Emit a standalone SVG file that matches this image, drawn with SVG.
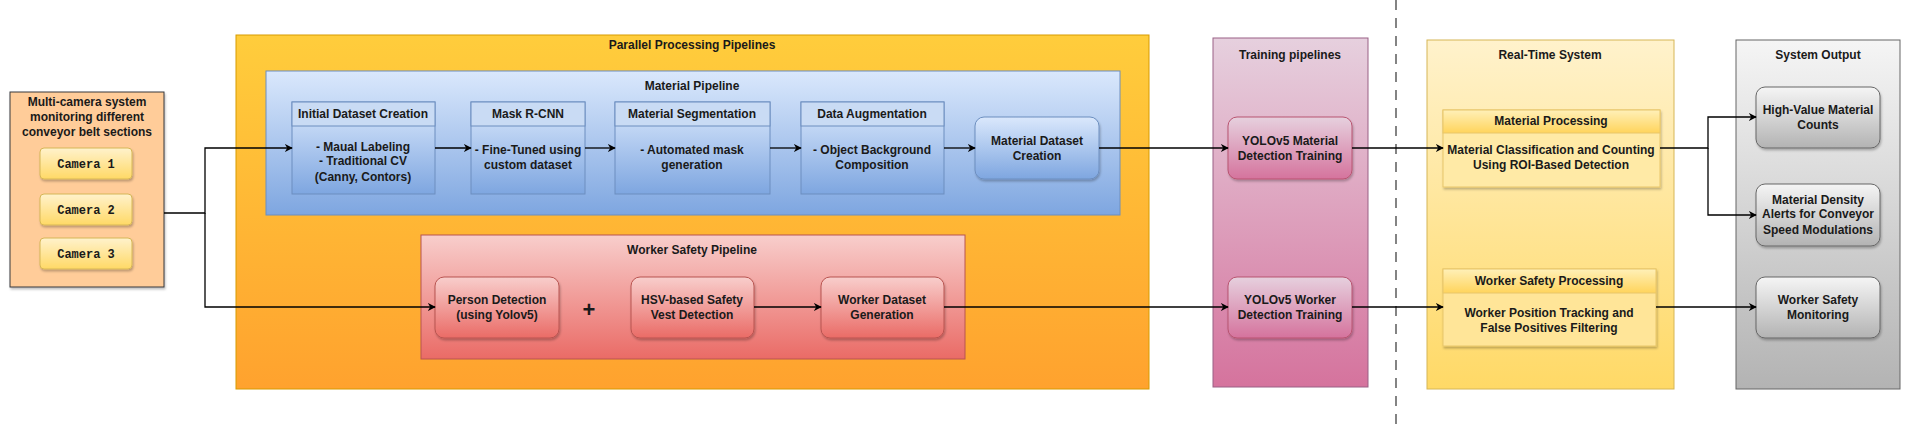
<svg xmlns="http://www.w3.org/2000/svg" width="1914" height="424" viewBox="0 0 1914 424">
<defs>
<linearGradient id="gOr" x1="0" y1="0" x2="0" y2="1"><stop offset="0" stop-color="#ffcd3c"/><stop offset="1" stop-color="#ffa22e"/></linearGradient>
<linearGradient id="gBl" x1="0" y1="0" x2="0" y2="1"><stop offset="0" stop-color="#dae8fc"/><stop offset="1" stop-color="#7ea6e0"/></linearGradient>
<linearGradient id="gRd" x1="0" y1="0" x2="0" y2="1"><stop offset="0" stop-color="#f8cecc"/><stop offset="1" stop-color="#ea6b66"/></linearGradient>
<linearGradient id="gPk" x1="0" y1="0" x2="0" y2="1"><stop offset="0" stop-color="#e6d0de"/><stop offset="1" stop-color="#d5739d"/></linearGradient>
<linearGradient id="gYl" x1="0" y1="0" x2="0" y2="1"><stop offset="0" stop-color="#fff2cc"/><stop offset="1" stop-color="#ffd966"/></linearGradient>
<linearGradient id="gHd" x1="0" y1="0" x2="0" y2="1"><stop offset="0" stop-color="#fff0b8"/><stop offset="1" stop-color="#ffd45c"/></linearGradient>
<linearGradient id="gGy" x1="0" y1="0" x2="0" y2="1"><stop offset="0" stop-color="#f5f5f5"/><stop offset="1" stop-color="#b3b3b3"/></linearGradient>
<filter id="sh" x="-10%" y="-10%" width="130%" height="130%"><feDropShadow dx="1" dy="2" stdDeviation="1.2" flood-opacity="0.25"/></filter>
<marker id="ar" viewBox="0 0 10 10" refX="9" refY="5" markerWidth="8" markerHeight="8" orient="auto" markerUnits="userSpaceOnUse"><path d="M0,0 L10,5 L0,10 L3,5 z" fill="#000"/></marker>
</defs>
<style>
text{font-family:"Liberation Sans",Arial,sans-serif;font-size:12px;font-weight:bold;fill:#1a1a1a;text-anchor:middle}
.mono{font-family:"Liberation Mono","DejaVu Sans Mono",monospace;font-size:12px}
.c{fill:none;stroke:#000;stroke-width:1.3}
</style>
<g id="parallel"><rect x="236" y="35" width="913" height="354" fill="url(#gOr)" stroke="#d79b00" stroke-width="1"/><text x="692" y="49">Parallel Processing Pipelines</text></g>
<g id="materialPipeline"><rect x="266" y="71" width="854" height="144" fill="url(#gBl)" stroke="#6c8ebf"/><text x="692" y="90">Material Pipeline</text></g>
<g id="workerPipeline"><rect x="421" y="235" width="544" height="124" fill="url(#gRd)" stroke="#b85450"/><text x="692" y="254">Worker Safety Pipeline</text></g>
<g id="training"><rect x="1213" y="38" width="155" height="349" fill="url(#gPk)" stroke="#996185"/><text x="1290" y="59">Training pipelines</text></g>
<g id="realtime"><rect x="1427" y="40" width="247" height="349" fill="url(#gYl)" stroke="#d6b656"/><text x="1550" y="59">Real-Time System</text></g>
<g id="output"><rect x="1736" y="40" width="164" height="349" fill="url(#gGy)" stroke="#666"/><text x="1818" y="59">System Output</text></g>
<line x1="1396" y1="0" x2="1396" y2="424" stroke="#333" stroke-width="1.2" stroke-dasharray="10 8"/>
<g id="cameraSystem"><rect x="10" y="92" width="154" height="195" fill="#ffcc99" stroke="#36393d" filter="url(#sh)"/>
<text x="87" y="106">Multi-camera system</text><text x="87" y="121">monitoring different</text><text x="87" y="136">conveyor belt sections</text></g>
<g id="camera1"><rect x="40" y="148" width="92" height="31" rx="4" fill="url(#gYl)" stroke="#d6b656" filter="url(#sh)"/><text class="mono" x="86" y="168">Camera 1</text></g>
<g id="camera2"><rect x="40" y="194" width="92" height="31" rx="4" fill="url(#gYl)" stroke="#d6b656" filter="url(#sh)"/><text class="mono" x="86" y="214">Camera 2</text></g>
<g id="camera3"><rect x="40" y="238" width="92" height="31" rx="4" fill="url(#gYl)" stroke="#d6b656" filter="url(#sh)"/><text class="mono" x="86" y="258">Camera 3</text></g>
<g id="initialDataset"><rect x="292" y="102" width="143" height="92" fill="url(#gBl)" stroke="#6c8ebf"/><rect x="292" y="102" width="143" height="24" fill="#c9dbf4" stroke="#6c8ebf"/><text x="363" y="118">Initial Dataset Creation</text>
<text x="363" y="151">- Maual Labeling</text><text x="363" y="165">- Traditional CV</text><text x="363" y="181">(Canny, Contors)</text></g>
<g id="maskRcnn"><rect x="471" y="102" width="114" height="92" fill="url(#gBl)" stroke="#6c8ebf"/><rect x="471" y="102" width="114" height="24" fill="#c9dbf4" stroke="#6c8ebf"/><text x="528" y="118">Mask R-CNN</text>
<text x="528" y="154">- Fine-Tuned using</text><text x="528" y="169">custom dataset</text></g>
<g id="materialSeg"><rect x="615" y="102" width="155" height="92" fill="url(#gBl)" stroke="#6c8ebf"/><rect x="615" y="102" width="155" height="24" fill="#c9dbf4" stroke="#6c8ebf"/><text x="692" y="118">Material Segmentation</text>
<text x="692" y="154">- Automated mask</text><text x="692" y="169">generation</text></g>
<g id="dataAug"><rect x="801" y="102" width="143" height="92" fill="url(#gBl)" stroke="#6c8ebf"/><rect x="801" y="102" width="143" height="24" fill="#c9dbf4" stroke="#6c8ebf"/><text x="872" y="118">Data Augmentation</text>
<text x="872" y="154">- Object Background</text><text x="872" y="169">Composition</text></g>
<g id="materialDataset"><rect x="975" y="117" width="124" height="62" rx="9" fill="url(#gBl)" stroke="#6c8ebf" filter="url(#sh)"/><text x="1037" y="145">Material Dataset</text><text x="1037" y="160">Creation</text></g>
<g id="personDet"><rect x="435" y="277" width="124" height="61" rx="9" fill="url(#gRd)" stroke="#b85450" filter="url(#sh)"/><text x="497" y="304">Person Detection</text><text x="497" y="319">(using Yolov5)</text></g>
<text x="589" y="317" style="font-size:22px">+</text>
<g id="hsv"><rect x="631" y="277" width="123" height="61" rx="9" fill="url(#gRd)" stroke="#b85450" filter="url(#sh)"/><text x="692" y="304">HSV-based Safety</text><text x="692" y="319">Vest Detection</text></g>
<g id="workerDataset"><rect x="821" y="277" width="123" height="61" rx="9" fill="url(#gRd)" stroke="#b85450" filter="url(#sh)"/><text x="882" y="304">Worker Dataset</text><text x="882" y="319">Generation</text></g>
<g id="yoloMaterial"><rect x="1228" y="117" width="124" height="62" rx="9" fill="url(#gPk)" stroke="#b85470" filter="url(#sh)"/><text x="1290" y="145">YOLOv5 Material</text><text x="1290" y="160">Detection Training</text></g>
<g id="yoloWorker"><rect x="1228" y="277" width="124" height="61" rx="9" fill="url(#gPk)" stroke="#b85470" filter="url(#sh)"/><text x="1290" y="304">YOLOv5 Worker</text><text x="1290" y="319">Detection Training</text></g>
<g id="materialProc"><rect x="1443" y="110" width="217" height="77" fill="#ffeaa6" stroke="#e8c66a" filter="url(#sh)"/><rect x="1443" y="110" width="217" height="23" fill="url(#gHd)" stroke="#e8c66a"/><text x="1551" y="125">Material Processing</text>
<text x="1551" y="154">Material Classification and Counting</text><text x="1551" y="169">Using ROI-Based Detection</text></g>
<g id="workerProc"><rect x="1443" y="269" width="213" height="77" fill="#ffe598" stroke="#e8c66a" filter="url(#sh)"/><rect x="1443" y="269" width="213" height="24" fill="url(#gHd)" stroke="#e8c66a"/><text x="1549" y="285">Worker Safety Processing</text>
<text x="1549" y="317">Worker Position Tracking and</text><text x="1549" y="332">False Positives Filtering</text></g>
<g id="highValue"><rect x="1756" y="87" width="124" height="61" rx="9" fill="url(#gGy)" stroke="#666" filter="url(#sh)"/><text x="1818" y="114">High-Value Material</text><text x="1818" y="129">Counts</text></g>
<g id="density"><rect x="1756" y="184" width="124" height="62" rx="9" fill="url(#gGy)" stroke="#666" filter="url(#sh)"/><text x="1818" y="204">Material Density</text><text x="1818" y="218">Alerts for Conveyor</text><text x="1818" y="234">Speed Modulations</text></g>
<g id="workerMon"><rect x="1756" y="277" width="124" height="61" rx="9" fill="url(#gGy)" stroke="#666" filter="url(#sh)"/><text x="1818" y="304">Worker Safety</text><text x="1818" y="319">Monitoring</text></g>
<g id="connectors">
<path class="c" d="M164 213 H205 V148 H292" marker-end="url(#ar)"/>
<path class="c" d="M205 213 V307 H435" marker-end="url(#ar)"/>
<path class="c" d="M435 148 H471" marker-end="url(#ar)"/>
<path class="c" d="M585 148 H615" marker-end="url(#ar)"/>
<path class="c" d="M770 148 H801" marker-end="url(#ar)"/>
<path class="c" d="M944 148 H975" marker-end="url(#ar)"/>
<path class="c" d="M1099 148 H1228" marker-end="url(#ar)"/>
<path class="c" d="M754 307 H821" marker-end="url(#ar)"/>
<path class="c" d="M944 307 H1228" marker-end="url(#ar)"/>
<path class="c" d="M1352 148 H1443" marker-end="url(#ar)"/>
<path class="c" d="M1352 307 H1443" marker-end="url(#ar)"/>
<path class="c" d="M1660 148 H1708 V117 H1756" marker-end="url(#ar)"/>
<path class="c" d="M1708 148 V215 H1756" marker-end="url(#ar)"/>
<path class="c" d="M1656 307 H1756" marker-end="url(#ar)"/>
</g>
</svg>
